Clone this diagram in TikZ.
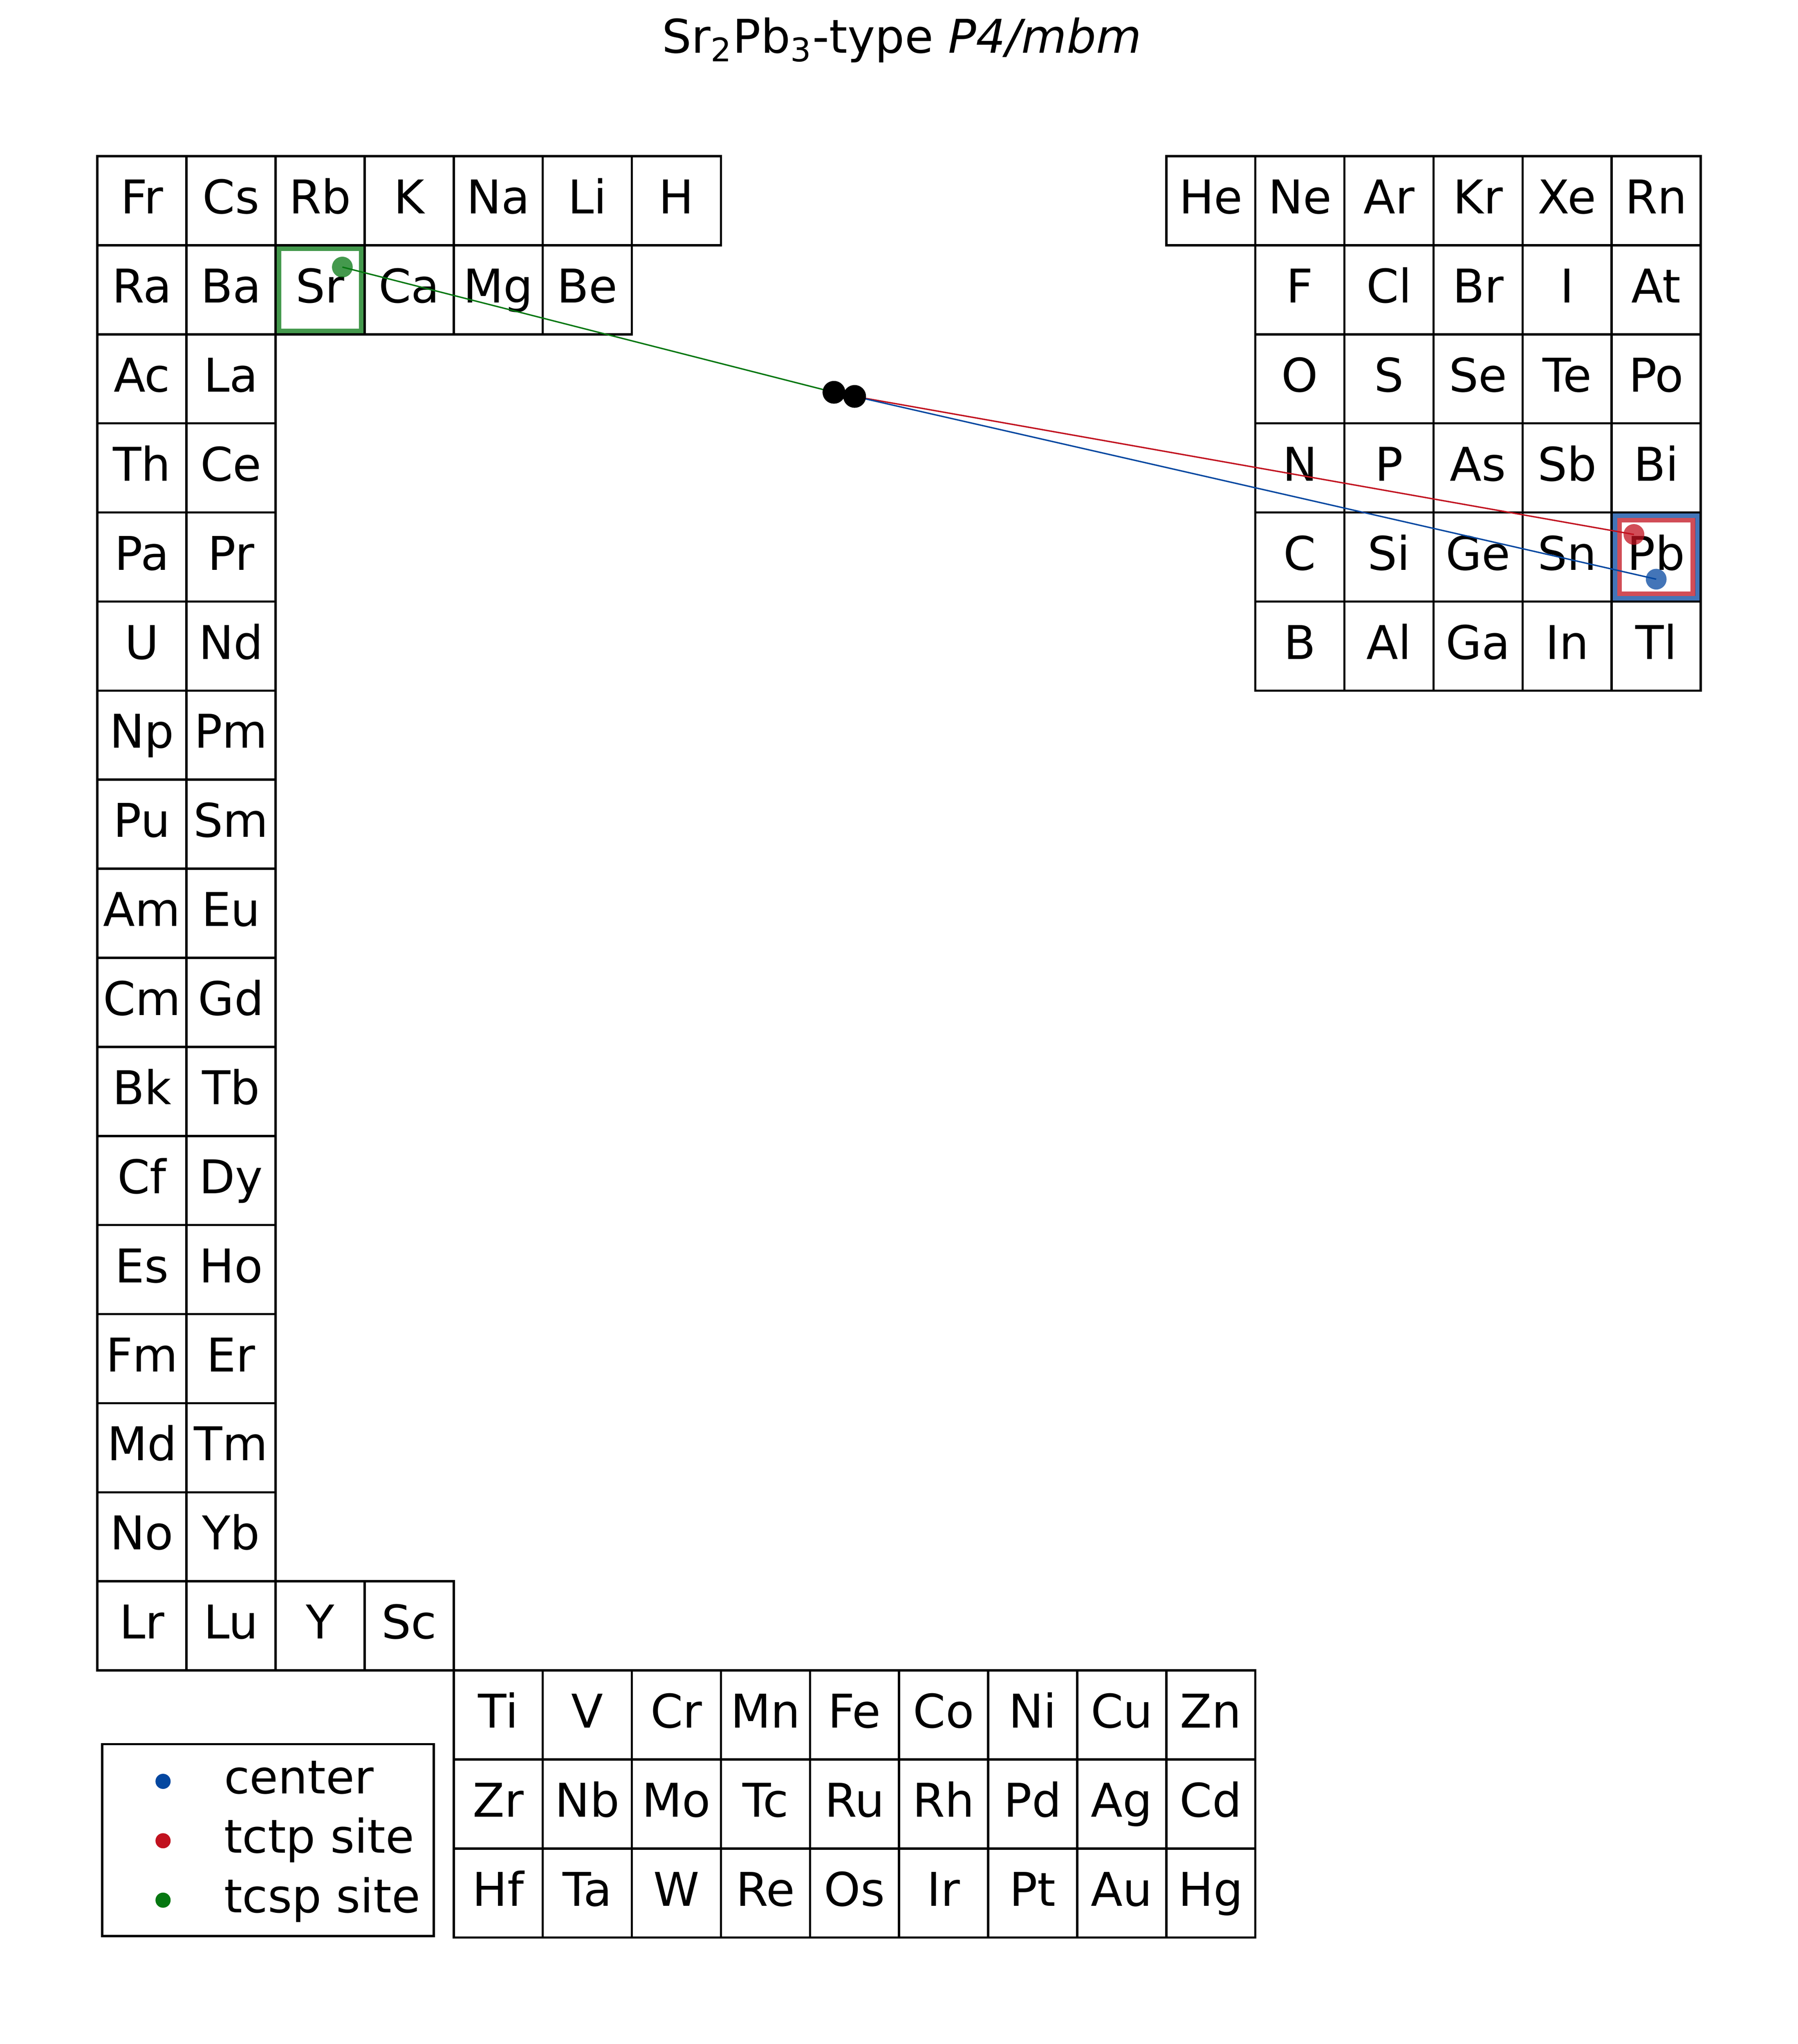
\documentclass[tikz,border=0pt]{standalone}
\usepackage{fontspec}
\setmainfont{DejaVu Sans}
\definecolor{centerblue}{HTML}{0447A0}
\definecolor{tctpred}{HTML}{C1121F}
\definecolor{tcspgreen}{HTML}{067711}
\tikzset{
  cell/.style={draw, line width=0.72pt},
  elem/.style={anchor=base, inner sep=0pt, font=\fontsize{14.85}{18}\selectfont},
  sitedot/.style={circle, inner sep=0pt, minimum size=0.233cm, opacity=0.75},
  hub/.style={circle, fill=black, inner sep=0pt, minimum size=0.256cm},
  legdot/.style={circle, inner sep=0pt, minimum size=0.17cm},
  link/.style={line width=0.45pt},
  markbox/.style={line width=1.45pt, opacity=0.75}
}
\begin{document}
\begin{tikzpicture}

  \useasboundingbox (-1.0935,1.7536) rectangle (19.0905,-21.195);

  \pgfmathsetmacro{\lift}{0.645}

  % Top row, left block
  \foreach \e [count=\i from 0] in {Fr,Cs,Rb,K,Na,Li,H}
  {
    \draw[cell] (\i,0) rectangle ++(1,-1);
    \node[elem] (\e) at (\i+0.5,-\lift) {\e};
  }
  % Second row, left block
  \foreach \e [count=\i from 2] in {Sr,Ca,Mg,Be}
  {
    \draw[cell] (\i,-1) rectangle ++(1,-1);
    \node[elem] (\e) at (\i+0.5,-1-\lift) {\e};
  }
  % Two long columns
  \foreach \e [count=\r from 1] in {Ra,Ac,Th,Pa,U,Np,Pu,Am,Cm,Bk,Cf,Es,Fm,Md,No,Lr}
  {
    \draw[cell] (0,-\r) rectangle ++(1,-1);
    \node[elem] (\e) at (0.5,-\r-\lift) {\e};
  }
  \foreach \e [count=\r from 1] in {Ba,La,Ce,Pr,Nd,Pm,Sm,Eu,Gd,Tb,Dy,Ho,Er,Tm,Yb,Lu}
  {
    \draw[cell] (1,-\r) rectangle ++(1,-1);
    \node[elem] (\e) at (1.5,-\r-\lift) {\e};
  }
  \foreach \e [count=\i from 2] in {Y,Sc}
  {
    \draw[cell] (\i,-16) rectangle ++(1,-1);
    \node[elem] (\e) at (\i+0.5,-16-\lift) {\e};
  }
  % Bottom block
  \foreach \row [count=\r from 17] in {{Ti,V,Cr,Mn,Fe,Co,Ni,Cu,Zn},{Zr,Nb,Mo,Tc,Ru,Rh,Pd,Ag,Cd},{Hf,Ta,W,Re,Os,Ir,Pt,Au,Hg}}
  {
    \foreach \e [count=\i from 4] in \row
    {
      \draw[cell] (\i,-\r) rectangle ++(1,-1);
      \node[elem] (\e) at (\i+0.5,-\r-\lift) {\e};
    }
  }
  % Right block
  \foreach \e [count=\i from 12] in {He,Ne,Ar,Kr,Xe,Rn}
  {
    \draw[cell] (\i,0) rectangle ++(1,-1);
    \node[elem] (\e) at (\i+0.5,-\lift) {\e};
  }
  \foreach \row [count=\r from 1] in {{F,Cl,Br,I,At},{O,S,Se,Te,Po},{N,P,As,Sb,Bi},{C,Si,Ge,Sn,Pb},{B,Al,Ga,In,Tl}}
  {
    \foreach \e [count=\i from 13] in \row
    {
      \draw[cell] (\i,-\r) rectangle ++(1,-1);
      \node[elem] (\e) at (\i+0.5,-\r-\lift) {\e};
    }
  }

  % Marked cells
  \draw[markbox, tcspgreen] (2.039,-1.039) rectangle (2.961,-1.961);
  \draw[markbox, centerblue] (17.0376,-4.0376) rectangle (17.9624,-4.9624);
  \draw[markbox, tctpred] (17.0877,-4.0877) rectangle (17.9123,-4.9123);

  % Sites and links
  \node[sitedot, fill=tcspgreen] (tcsp) at (2.75,-1.245) {};
  \node[sitedot, fill=tctpred] (tctp) at (17.25,-4.247) {};
  \node[sitedot, fill=centerblue] (ctr) at (17.5,-4.749) {};
  \coordinate (hubA) at (8.269,-2.651);
  \coordinate (hubB) at (8.501,-2.697);
  \draw[link, tcspgreen] (tcsp.center) -- (hubA);
  \draw[link, tctpred] (hubB) -- (tctp.center);
  \draw[link, centerblue] (hubB) -- (ctr.center);
  \node[hub] (hubAdot) at (hubA) {}; % Marked point
  \node[hub] (hubBdot) at (hubB) {}; % Marked point

  % Legend
  \draw[line width=0.72pt] (0.054,-17.828) rectangle (3.775,-19.984);
  \foreach \lab/\col [count=\k from 0] in {center/centerblue, tctp site/tctpred, tcsp site/tcspgreen}
  {
    \node[legdot, fill=\col] (legdot\k) at (0.737,-18.246-0.667*\k) {};
    \node[elem, anchor=base west] (legtext\k) at (1.415,-18.383-0.668*\k) {\lab};
  }

  % Title
  \node[elem] (title) at (9.03,1.160) {Sr\textsubscript{2}Pb\textsubscript{3}-type \textit{P4/mbm}};

\end{tikzpicture}
\end{document}
